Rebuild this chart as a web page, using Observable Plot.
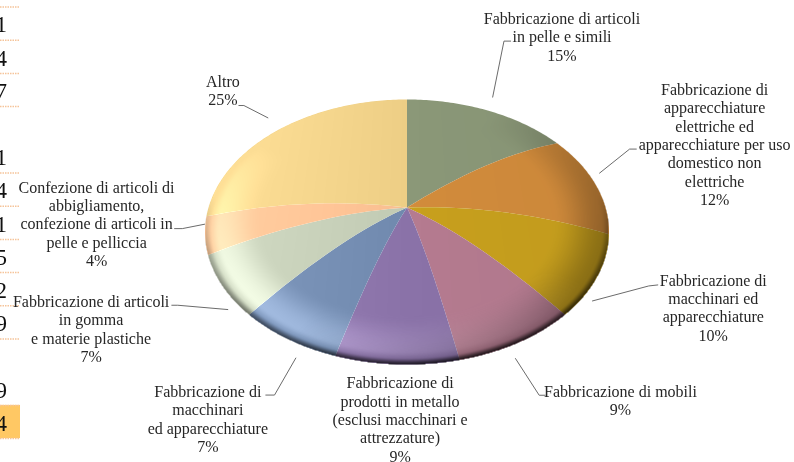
<!DOCTYPE html>
<html><head><meta charset="utf-8">
<style>html,body{margin:0;padding:0;background:#fff}svg{display:block}</style>
<script src="https://cdn.jsdelivr.net/npm/d3@7"></script>
<script src="https://cdn.jsdelivr.net/npm/@observablehq/plot@0.6"></script>
</head><body><div id="chart"></div>
<script>
const categories = [
  "Fabbricazione di articoli\nin pelle e simili",
  "Fabbricazione di\napparecchiature\nelettriche ed\napparecchiature per uso\ndomestico non\nelettriche",
  "Fabbricazione di\nmacchinari ed\napparecchiature",
  "Fabbricazione di mobili",
  "Fabbricazione di\nprodotti in metallo\n(esclusi macchinari e\nattrezzature)",
  "Fabbricazione di\nmacchinari\ned apparecchiature",
  "Fabbricazione di articoli\nin gomma\ne materie plastiche",
  "Confezione di articoli di\nabbigliamento,\nconfezione di articoli in\npelle e pelliccia",
  "Altro"
];
const values = [15.5, 12.4, 9.6, 8.5, 8.2, 7.2, 7.2, 4.5, 25.8];
const percentLabels = ["15%","12%","10%","9%","9%","7%","7%","4%","25%"];
const sliceColors = ["#8B9878","#D28C3C","#C8A01E","#B57B90","#8A72A8","#7089AE","#C1CAB3","#F8BE90","#EDCE85"];

// clipped neighbouring table at the left edge
const tableDigits = ["1","4","7","1","4","1","5","2","9","9","4"];
const tableRows = [0,1,2,4,5,6,7,8,9,11,12];
const tableRules = [0,1,2,3,5,6,7,8,9,10,12,13];
const highlightRow = 12;

// layout, relative to each slice's rim point
const labelOffsets = [[74.3,-74.1],[119.4,-39.8],[115.6,31.7],[102,57.5],[3.1,54.8],[-79.7,79.7],[-131.4,42.6],[-108.5,-12],[-55.3,-40.1]];
const leaderOffsets = [
  [[5,-13.4],[16.3,-69.4],[23,-69.4]],
  [[4.4,-10.8],[34.4,-34.8],[41.1,-34.8]],
  [[-5.2,25.2],[51.1,10.2],[60.1,9.2]],
  [[-3,16],[20.7,52.7],[26.7,52.7]],
  [],
  [[8.3,19.2],[-13,56.2],[-21.7,56.2]],
  [[5.3,23.6],[-44.7,19.3],[-50.7,19.3]],
  [[-.5,-11.2],[-22.8,-6.8],[-30.5,-6.8]],
  [[-10.3,-12.1],[-34.3,-24.4],[-39.3,-24.4]]
];

const W = 794, H = 462;
const cx = 406.5, cy = 207, R = 198.5, S = 128, k = 0.185, dome = 8;
const rowY = i => 6.5 + 33.2 * i;

function project(r, theta) {
  const u = r * Math.sin(theta), v = -r * Math.cos(theta), den = 1 - k * v;
  return [cx + R * u / den, cy + S * v / den - dome * 4 * r * (1 - r)];
}
function invert(x, y) {
  const dx = x - cx, dy = y - cy, den = S + k * dy;
  const v = dy / den, u = dx * S / den / R;
  return [u, v, Math.hypot(u, v)];
}
const smooth = (a, b, t) => { const s = Math.max(0, Math.min(1, (t - a) / (b - a))); return s * s * (3 - 2 * s); };

const total = d3.sum(values);
const cum = d3.cumsum(values);
const sliceAngles = values.map((d, i) => [(cum[i] - d) / total * 2 * Math.PI, cum[i] / total * 2 * Math.PI]);
const slicePoints = sliceAngles.flatMap(([a0, a1], i) => {
  const pts = [];
  const radial = d3.range(0, 21).map(j => j / 20);
  for (const r of radial) pts.push(project(r, a0));
  const n = Math.ceil((a1 - a0) * 60);
  for (let j = 1; j <= n; j++) pts.push(project(1, a0 + (a1 - a0) * j / n));
  for (const r of radial.slice().reverse()) pts.push(project(r, a1));
  return pts.map(([x, y]) => ({x, y, category: categories[i]}));
});
const rim = sliceAngles.map(([a0, a1]) => project(1, (a0 + a1) / 2));
const labels = categories.map((c, i) => ({
  text: c + "\n" + percentLabels[i],
  x: rim[i][0] + labelOffsets[i][0],
  y: rim[i][1] + labelOffsets[i][1]
}));
const leaders = leaderOffsets.flatMap((pts, i) => pts.map(([dx, dy]) => ({x: rim[i][0] + dx, y: rim[i][1] + dy, i})));

function lightAlpha(x, y) {
  const [u, v, r] = invert(x, y);
  if (r > 1) return 0;
  const a = r > 0 ? (u * -0.55 + v * 0.83) / r : 0;
  const band = smooth(0.72, 0.93, r) * (1 - smooth(0.93, 0.985, r));
  const rimLight = band * Math.max(0, a) * 0.15;
  const wide = Math.max(0, -u) * 0.07;
  return Math.min(0.5, rimLight + wide);
}
function darkAlpha(x, y) {
  const [u, v, r] = invert(x, y);
  if (r > 1) return 0;
  const c = r > 0 ? (u * 0.85 + v * 0.5) / r : 0;
  const side = smooth(0.72, 1.0, r) * Math.max(0, c) * 0.3;
  const edge = smooth(0.965, 1.0, r) * Math.max(0, v / (r || 1) + 0.1) * 0.55;
  const wide = Math.max(0, u) * 0.03;
  return Math.min(0.8, side + edge + wide);
}

const font = "'Liberation Serif', serif";
const chart = Plot.plot({
  width: W, height: H, margin: 0,
  x: {domain: [0, W], range: [0, W], axis: null},
  y: {domain: [0, H], range: [0, H], axis: null},
  color: {domain: categories, range: sliceColors},
  opacity: {type: "identity"},
  style: {background: "#fff", fontFamily: font},
  marks: [
    Plot.rect([highlightRow], {x1: 0, x2: 20, y1: d => rowY(d), y2: d => rowY(d + 1), fill: "#FFC864"}),
    Plot.ruleY(tableRules, {y: d => rowY(d), x1: 0, x2: 20, stroke: "#F5C49A", strokeWidth: 1.5, strokeDasharray: "1.5 1"}),
    Plot.text(tableDigits, {
      x: 6.5, y: (d, i) => rowY(tableRows[i]) + 18, text: d => d, textAnchor: "end",
      fontSize: 23, fill: "#111", fontWeight: (d, i) => i === tableDigits.length - 1 ? "bold" : "normal"
    }),
    Plot.line(slicePoints, {x: "x", y: "y", z: "category", fill: "category", stroke: null, curve: "linear"}),
    Plot.raster({x1: 0, x2: W, y1: 0, y2: H, width: W, height: H, fill: "#fff", fillOpacity: lightAlpha, mixBlendMode: "plus-lighter"}),
    Plot.raster({x1: 0, x2: W, y1: 0, y2: H, width: W, height: H, fill: "#000", fillOpacity: darkAlpha}),
    Plot.line(leaders, {x: "x", y: "y", z: "i", stroke: "#6b6b6b", strokeWidth: 1, curve: "linear"}),
    Plot.text(labels, {x: "x", y: "y", text: "text", textAnchor: "middle", lineAnchor: "middle", fontSize: 16, lineHeight: 1.145, fill: "#262626"})
  ]
});
document.getElementById("chart").append(chart);
</script></body></html>
